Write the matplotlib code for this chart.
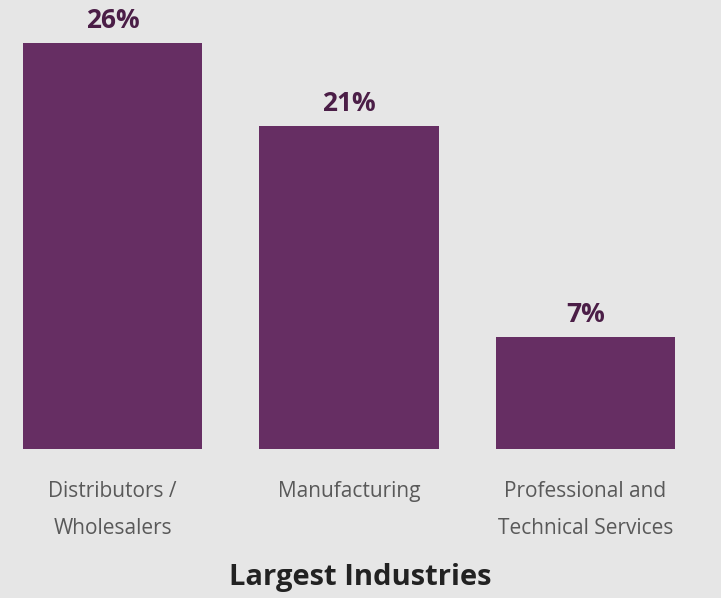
import matplotlib
matplotlib.use('Agg')
import matplotlib.pyplot as plt

categories = ['Distributors /\nWholesalers', 'Manufacturing',
              'Professional and\nTechnical Services']
values = [26, 20.7, 7.2]
value_labels = ['26%', '21%', '7%']
title = 'Largest Industries'

bg = '#e6e6e6'
bar_color = '#662e63'
label_color = '#4b1e47'

plt.rcParams['font.family'] = ['Open Sans', 'DejaVu Sans']

fig = plt.figure(figsize=(7.21, 5.98), dpi=100, facecolor=bg)
ax = fig.add_axes([0, 149 / 598, 1, 449 / 598])
ax.set_facecolor(bg)

x = range(len(categories))
bars = ax.bar(x, values, width=0.757, color=bar_color)
ax.set_xlim(-0.4757, 2.573)
ax.set_ylim(0, 28.75)

for b, lab in zip(bars, value_labels):
    ax.annotate(lab, (b.get_x() + b.get_width() / 2, b.get_height()),
                xytext=(0, 16), textcoords='offset points',
                ha='center', va='center', fontsize=19, fontweight='bold',
                color=label_color)

for xi, cat in zip(x, categories):
    ax.annotate(cat, (xi, 0), xytext=(0, -23), textcoords='offset points',
                ha='center', va='top', fontsize=15, color='#595959',
                linespacing=2.0, annotation_clip=False)

for s in ax.spines.values():
    s.set_visible(False)
ax.set_xticks([])
ax.set_yticks([])

fig.text(0.5, 1 - 577 / 598, title, ha='center', va='center',
         fontsize=21, fontweight='bold', color='#222222')

fig.savefig('out.png', dpi=100, facecolor=bg)
